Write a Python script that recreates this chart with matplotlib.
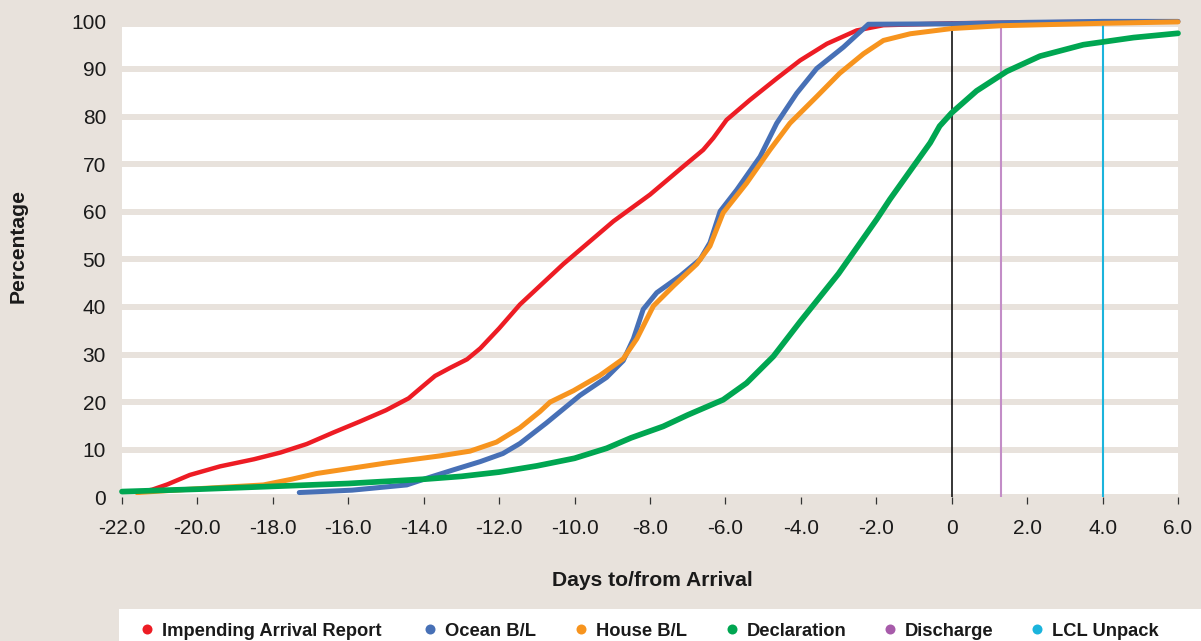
import numpy as np
import matplotlib
matplotlib.use("Agg")
import matplotlib.pyplot as plt
from matplotlib.patches import Rectangle
from matplotlib.lines import Line2D

plt.rcParams['font.family'] = ['Liberation Sans', 'DejaVu Sans']

# ---- data -------------------------------------------------------------
arrival_x = [-21.6, -21.2, -20.8, -20.2, -19.4, -18.5, -17.8, -17.1, -16.4, -15.7,
             -15.0, -14.4, -14.0, -13.7, -13.3, -12.85, -12.5, -12.0, -11.45, -10.3,
             -8.97, -8.0, -7.12, -6.59, -6.32, -5.97, -5.35, -4.64, -4.02, -3.31,
             -2.52, -1.81, 0.0, 2.0, 6.0]
arrival_y = [1.0, 1.6, 2.7, 4.7, 6.5, 8.0, 9.4, 11.2, 13.6, 15.9,
             18.3, 20.8, 23.5, 25.5, 27.2, 29.0, 31.3, 35.5, 40.5, 49.0,
             58.0, 63.6, 69.5, 73.0, 75.5, 79.3, 83.5, 88.0, 91.8, 95.3,
             98.1, 99.2, 99.6, 99.8, 100.0]

ocean_x = [-17.3, -15.9, -14.45, -13.92, -13.2, -12.5, -11.9, -11.45, -10.75, -9.86,
           -9.15, -8.71, -8.44, -8.18, -7.82, -7.2, -6.67, -6.41, -6.14, -5.7,
           -5.08, -4.64, -4.11, -3.58, -2.87, -2.21, 0.0, 2.0, 4.0, 6.0]
ocean_y = [1.0, 1.5, 2.6, 4.0, 5.8, 7.5, 9.2, 11.3, 15.6, 21.4,
           25.2, 28.7, 33.3, 39.5, 43.0, 46.5, 50.0, 53.5, 60.1, 64.6,
           71.6, 78.6, 84.9, 90.1, 94.6, 99.4, 99.5, 99.8, 100.0, 100.0]

house_x = [-21.6, -20.0, -18.25, -17.5, -16.84, -15.0, -13.57, -12.77, -12.07, -11.45,
           -10.92, -10.65, -10.03, -9.33, -8.71, -8.35, -7.91, -7.38, -6.76, -6.41,
           -6.06, -5.44, -4.82, -4.29, -3.58, -2.97, -2.34, -1.81, -1.1, 0.0,
           1.33, 4.0, 6.0]
house_y = [1.0, 1.8, 2.6, 3.8, 5.0, 7.2, 8.7, 9.7, 11.6, 14.6,
           18.0, 20.0, 22.4, 25.6, 29.1, 33.3, 40.2, 44.4, 49.0, 52.8,
           59.8, 66.0, 73.0, 78.6, 84.2, 89.1, 93.2, 96.0, 97.4, 98.5,
           99.1, 99.6, 99.9]

decl_x = [-22.0, -20.0, -18.0, -16.0, -14.0, -13.0, -12.0, -11.0, -10.0, -9.15,
          -8.5, -7.65, -7.0, -6.06, -5.44, -4.73, -4.02, -3.0, -1.99, -1.64,
          -0.93, -0.57, -0.32, 0.0, 0.66, 1.46, 2.34, 3.49, 4.82, 6.0]
decl_y = [1.2, 1.7, 2.3, 2.9, 3.8, 4.4, 5.3, 6.6, 8.2, 10.3,
          12.5, 14.9, 17.3, 20.5, 24.0, 29.6, 36.9, 47.0, 58.4, 62.6,
          70.5, 74.5, 78.0, 80.8, 85.4, 89.5, 92.7, 95.1, 96.6, 97.5]

arrival_day = 0.0
discharge_day = 1.3
lcl_unpack_day = 4.0

x_ticks = [-22, -20, -18, -16, -14, -12, -10, -8, -6, -4, -2, 0, 2, 4, 6]
x_tick_labels = ['-22.0', '-20.0', '-18.0', '-16.0', '-14.0', '-12.0', '-10.0',
                 '-8.0', '-6.0', '-4.0', '-2.0', '0', '2.0', '4.0', '6.0']
y_ticks = [0, 10, 20, 30, 40, 50, 60, 70, 80, 90, 100]

series_names = ['Impending Arrival Report', 'Ocean B/L', 'House B/L',
                'Declaration', 'Discharge', 'LCL Unpack']

# ---- style ------------------------------------------------------------
BG = '#E8E2DC'
RED = '#ED1C24'
BLUE = '#4770B6'
ORANGE = '#F7941E'
GREEN = '#00A651'
PURPLE_LINE = '#C38DC7'
PURPLE = '#A75BAA'
CYAN = '#1BB4DC'
TEXT = '#1A1A1A'

W, H = 1201, 641
fig = plt.figure(figsize=(W / 100, H / 100), dpi=100, facecolor=BG)
ax = fig.add_axes([122 / W, 1 - 497.3 / H, 1056 / W, (497.3 - 21.4) / H])
ax.set_facecolor(BG)
ax.set_xlim(-22, 6)
ax.set_ylim(0, 100)
for s in ax.spines.values():
    s.set_visible(False)

# white plotting panel stops just short of the 100 line
ax.add_patch(Rectangle((-22, 0), 28, 98.8, facecolor='white', edgecolor='none',
                       zorder=0))

ax.set_xticks(x_ticks)
ax.set_xticklabels(x_tick_labels)
ax.set_yticks(y_ticks)
ax.tick_params(axis='x', direction='out', length=5, width=0.9, color='#333333',
               pad=10.5, labelsize=15, labelcolor=TEXT)
ax.tick_params(axis='y', length=0, pad=11.5, labelsize=15, labelcolor=TEXT)

ax.set_axisbelow(True)
ax.yaxis.grid(True, color=BG, linewidth=4.3)

# markers for arrival, discharge and LCL unpack
ax.axvline(arrival_day, color='black', linewidth=1.1, zorder=2)
ax.axvline(discharge_day, color=PURPLE_LINE, linewidth=1.5, zorder=2)
ax.axvline(lcl_unpack_day, color=CYAN, linewidth=1.5, zorder=2)

# cumulative curves
kw = dict(solid_capstyle='round', solid_joinstyle='round', clip_on=False)
ax.plot(arrival_x, arrival_y, color=RED, linewidth=3.2, zorder=3, **kw)
ax.plot(ocean_x, ocean_y, color=BLUE, linewidth=3.6, zorder=4, **kw)
ax.plot(house_x, house_y, color=ORANGE, linewidth=3.6, zorder=5, **kw)
ax.plot(decl_x, decl_y, color=GREEN, linewidth=4.1, zorder=6, **kw)

# axis titles
fig.text(652 / W, 1 - 580 / H, 'Days to/from Arrival', ha='center', va='center',
         fontsize=15.2, fontweight='bold', color=TEXT)
fig.text(18 / W, 1 - 246 / H, 'Percentage', ha='center', va='center',
         rotation=90, fontsize=15.2, fontweight='bold', color=TEXT)

# legend strip
fig.add_artist(Rectangle((119 / W, 0), 1 - 119 / W, 32 / H,
                         transform=fig.transFigure, facecolor='white',
                         edgecolor='none'))
legend_colors = [RED, BLUE, ORANGE, GREEN, PURPLE, CYAN]
dot_px = [147, 430, 581, 732, 890, 1037]
ly = 1 - 629 / H
for name, col, px in zip(series_names, legend_colors, dot_px):
    fig.add_artist(Line2D([px / W], [ly], marker='o', markersize=7.2,
                          markerfacecolor=col, markeredgecolor='none',
                          linestyle='none', transform=fig.transFigure))
    fig.text((px + 15) / W, ly, name, ha='left', va='center_baseline',
             fontsize=13.2, fontweight='bold', color=TEXT)

fig.savefig('out.png', dpi=100, facecolor=BG)
